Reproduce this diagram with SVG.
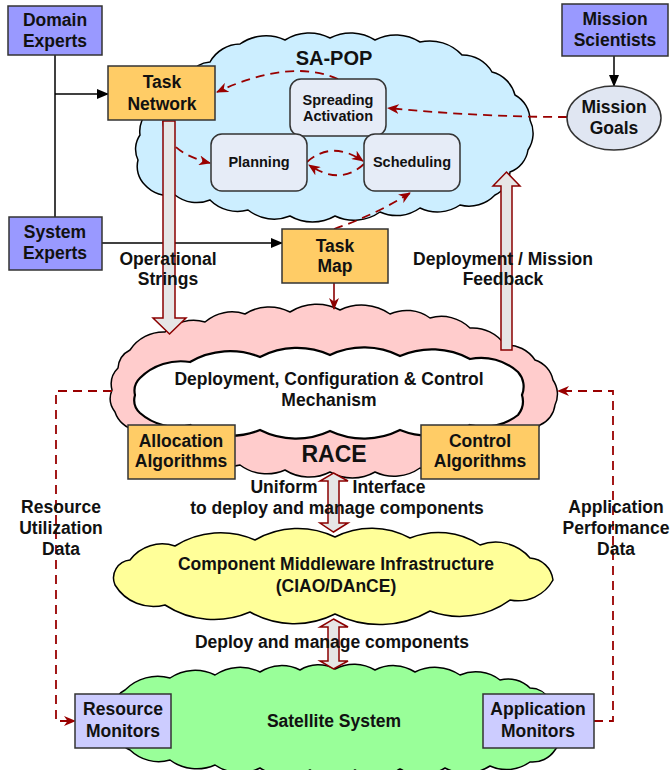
<svg xmlns="http://www.w3.org/2000/svg" width="670" height="770" viewBox="0 0 670 770">
<defs>
<style>
.t{font-family:"Liberation Sans",Arial,Helvetica,sans-serif;font-weight:bold;font-size:17.5px;fill:#111;text-anchor:middle}
.s{font-size:14.5px}
.box{stroke:#333;stroke-width:1.5}
.blue{fill:#9999ff}
.org{fill:#ffcc66}
.lav{fill:#ccccff}
.node{fill:#e6ecf7;stroke:#333;stroke-width:1.5}
.cloud{stroke:#000;stroke-width:1.5}
.dash{fill:none;stroke:#990000;stroke-width:1.8;stroke-dasharray:9 6}
.blk{fill:none;stroke:#000;stroke-width:1.5}
.block{fill:#e6e6e6;stroke:#8b0000;stroke-width:1.5}
</style>
<marker id="ra" viewBox="0 0 12 10" refX="11" refY="5" markerWidth="12" markerHeight="10" markerUnits="userSpaceOnUse" orient="auto"><path d="M0,0 L12,5 L0,10 L3.5,5 Z" fill="#990000"/></marker>
<marker id="ba" viewBox="0 0 12 10" refX="11" refY="5" markerWidth="12" markerHeight="10" markerUnits="userSpaceOnUse" orient="auto"><path d="M0,0 L12,5 L0,10 Z" fill="#000"/></marker>
<marker id="da" viewBox="0 0 12 10" refX="11" refY="5" markerWidth="12" markerHeight="10" markerUnits="userSpaceOnUse" orient="auto"><path d="M0,0 L12,5 L0,10 L3.5,5 Z" fill="#8b0000"/></marker>
</defs>
<rect width="670" height="770" fill="#fff"/>

<g id="sapop">
<path class="cloud" fill="#cceeff" d="M210,62 A35,35 0 0 1 240,44 A45,45 0 0 1 285,40 A45,45 0 0 1 330,38 A45,45 0 0 1 375,40 A45,45 0 0 1 420,42 A44,44 0 0 1 462,55 A34,34 0 0 1 492,72 A32,32 0 0 1 515,95 A29,29 0 0 1 530,120 A30,30 0 0 1 528,150 A28,28 0 0 1 510,172 A27,27 0 0 1 495,195 A36,36 0 0 1 460,205 A40,40 0 0 1 420,208 A40,40 0 0 1 380,212 A45,45 0 0 1 335,216 A45,45 0 0 1 290,216 A42,42 0 0 1 248,210 A39,39 0 0 1 210,200 A35,35 0 0 1 175,195 A32,32 0 0 1 145,185 A26,26 0 0 1 138,160 A25,25 0 0 1 140,135 A27,27 0 0 1 150,110 A50,50 0 0 1 190,75 A24,24 0 0 1 210,62 Z"/>
<text class="t" x="334" y="65" style="font-size:20px">SA-POP</text>
</g>

<g id="race">
<path class="cloud" fill="#ffcccc" d="M130,350 A40,40 0 0 1 165,332 A41,41 0 0 1 205,322 A41,41 0 0 1 245,314 A45,45 0 0 1 290,312 A50,50 0 0 1 340,310 A50,50 0 0 1 390,314 A40,40 0 0 1 430,318 A41,41 0 0 1 470,328 A39,39 0 0 1 505,345 A34,34 0 0 1 535,360 A27,27 0 0 1 553,380 A25,25 0 0 1 555,405 A25,25 0 0 1 540,425 A43,43 0 0 1 500,440 A45,45 0 0 1 460,460 A41,41 0 0 1 420,468 A45,45 0 0 1 375,472 A45,45 0 0 1 330,472 A45,45 0 0 1 285,470 A45,45 0 0 1 240,465 A36,36 0 0 1 205,455 A38,38 0 0 1 170,440 A36,36 0 0 1 135,430 A27,27 0 0 1 115,412 A22,22 0 0 1 112,390 A23,23 0 0 1 118,368 A22,22 0 0 1 130,350 Z"/>
<text class="t" x="334" y="462" style="font-size:23px">RACE</text>
</g>

<g id="dcc">
<path fill="#fff" stroke="#000" stroke-width="2.2" d="M140,378 A58,58 0 0 1 190,362 A80,80 0 0 1 260,357 A80,80 0 0 1 330,355 A80,80 0 0 1 400,356 A80,80 0 0 1 470,359 A55,55 0 0 1 518,372 A22,22 0 0 1 522,395 A22,22 0 0 1 518,415 A55,55 0 0 1 470,425 A80,80 0 0 1 400,430 A80,80 0 0 1 330,431 A80,80 0 0 1 260,430 A80,80 0 0 1 190,425 A55,55 0 0 1 140,413 A18,18 0 0 1 135,395 A18,18 0 0 1 140,378 Z"/>
<text class="t" x="329" y="385">Deployment, Configuration &amp; Control</text>
<text class="t" x="329" y="406">Mechanism</text>
</g>

<g id="cmi">
<path class="cloud" fill="#ffff99" d="M130,560 A40,40 0 0 1 175,546 A85,85 0 0 1 255,540 A85,85 0 0 1 335,537 A80,80 0 0 1 410,538 A75,75 0 0 1 480,545 A45,45 0 0 1 530,558 A25,25 0 0 1 553,580 A40,40 0 0 1 510,600 A85,85 0 0 1 430,611 A100,100 0 0 1 335,614 A90,90 0 0 1 250,612 A90,90 0 0 1 165,605 A45,45 0 0 1 115,585 A18,18 0 0 1 130,560 Z"/>
<text class="t" x="336" y="570">Component Middleware Infrastructure</text>
<text class="t" x="336" y="592">(CIAO/DAnCE)</text>
</g>

<g id="satellite">
<path class="cloud" fill="#99ff99" d="M125,690 A46,46 0 0 1 170,678 A45,45 0 0 1 215,675 A45,45 0 0 1 260,672 A40,40 0 0 1 300,670 A35,35 0 0 1 335,669 A40,40 0 0 1 375,670 A40,40 0 0 1 415,672 A45,45 0 0 1 460,675 A40,40 0 0 1 500,680 A31,31 0 0 1 530,688 A23,23 0 0 1 550,700 A27,27 0 0 1 560,725 A25,25 0 0 1 555,750 A27,27 0 0 1 530,762 A40,40 0 0 1 490,766 A45,45 0 0 1 445,768 A45,45 0 0 1 400,769 A45,45 0 0 1 355,770 A45,45 0 0 1 310,770 A50,50 0 0 1 260,768 A45,45 0 0 1 215,765 A45,45 0 0 1 170,760 A41,41 0 0 1 130,750 A25,25 0 0 1 115,730 A25,25 0 0 1 115,705 A18,18 0 0 1 125,690 Z"/>
<text class="t" x="334" y="727">Satellite System</text>
</g>

<g id="connectors">
<line class="blk" x1="55" y1="55" x2="55" y2="217"/>
<line class="blk" x1="55" y1="94" x2="108" y2="94" marker-end="url(#ba)"/>
<line class="blk" x1="102" y1="243" x2="282" y2="243" marker-end="url(#ba)"/>
<line class="blk" x1="614" y1="56" x2="614" y2="86" marker-end="url(#ba)"/>
<line x1="334" y1="283" x2="334" y2="309" stroke="#8b0000" stroke-width="1.6" marker-end="url(#da)"/>
<path class="dash" d="M338,79 Q290,58 217,92" marker-end="url(#ra)"/>
<path class="dash" d="M163,121 Q165,152 210,163" marker-end="url(#ra)"/>
<path class="dash" d="M307,162 Q332,140 363,161" marker-end="url(#ra)"/>
<path class="dash" d="M364,164 Q340,186 309,165" marker-end="url(#ra)"/>
<path class="dash" d="M567,117 Q480,117 388,108" marker-end="url(#ra)"/>
<path class="dash" d="M334,229 Q375,215 410,193" marker-end="url(#ra)"/>
<path class="dash" d="M112,391 L56,391 L56,721 L75,721" marker-end="url(#ra)"/>
<path class="dash" d="M594,721 L613,721 L613,391 L558,391" marker-end="url(#ra)"/>
<path class="block" d="M163,121 L175,121 L175,318 L186,318 L169.5,334 L153,318 L163,318 Z"/>
<path class="block" d="M501,350 L512,350 L512,186 L520,186 L506.5,172 L493,186 L501,186 Z"/>
<path class="block" d="M333.5,473 L348,481 L339,481 L339,523 L348,523 L333.5,532 L320,523 L328,523 L328,481 L320,481 Z"/>
<path class="block" d="M333.5,619 L348,627 L339,627 L339,661 L348,661 L333.5,669 L320,661 L328,661 L328,627 L320,627 Z"/>
<text class="t" x="168" y="265">Operational</text>
<text class="t" x="168" y="285">Strings</text>
<text class="t" x="503" y="265">Deployment / Mission</text>
<text class="t" x="503" y="285">Feedback</text>
<text class="t" x="284" y="493">Uniform</text>
<text class="t" x="389" y="493">Interface</text>
<text class="t" x="337" y="514">to deploy and manage components</text>
<text class="t" x="332" y="648">Deploy and manage components</text>
<text class="t" x="61" y="513">Resource</text>
<text class="t" x="61" y="534">Utilization</text>
<text class="t" x="61" y="555">Data</text>
<text class="t" x="616" y="513">Application</text>
<text class="t" x="616" y="534">Performance</text>
<text class="t" x="616" y="555">Data</text>
</g>

<g id="domain-experts">
<rect class="box blue" x="8" y="6" width="94" height="49"/>
<text class="t" x="55" y="26">Domain</text>
<text class="t" x="55" y="47">Experts</text>
</g>
<g id="task-network">
<rect class="box org" x="108" y="66" width="107" height="54"/>
<text class="t" x="162" y="88">Task</text>
<text class="t" x="162" y="110">Network</text>
</g>
<g id="mission-scientists">
<rect class="box blue" x="562" y="4" width="106" height="52"/>
<text class="t" x="615" y="25">Mission</text>
<text class="t" x="615" y="46">Scientists</text>
</g>
<g id="mission-goals">
<ellipse cx="614" cy="118" rx="47" ry="32" fill="#e0e6f2" stroke="#333" stroke-width="1.5"/>
<text class="t" x="614" y="113">Mission</text>
<text class="t" x="614" y="134">Goals</text>
</g>
<g id="spreading-activation">
<rect class="node" x="290" y="79" width="96" height="57" rx="11"/>
<text class="t s" x="338" y="105">Spreading</text>
<text class="t s" x="338" y="121">Activation</text>
</g>
<g id="planning">
<rect class="node" x="211" y="134" width="96" height="57" rx="11"/>
<text class="t s" x="259" y="167">Planning</text>
</g>
<g id="scheduling">
<rect class="node" x="364" y="134" width="96" height="57" rx="11"/>
<text class="t s" x="412" y="167">Scheduling</text>
</g>
<g id="system-experts">
<rect class="box blue" x="9" y="217" width="93" height="53"/>
<text class="t" x="55" y="238">System</text>
<text class="t" x="55" y="259">Experts</text>
</g>
<g id="task-map">
<rect class="box org" x="282" y="229" width="106" height="54"/>
<text class="t" x="335" y="252">Task</text>
<text class="t" x="335" y="272">Map</text>
</g>
<g id="allocation-algorithms">
<rect class="box org" x="128" y="425" width="107" height="54"/>
<text class="t" x="181" y="447">Allocation</text>
<text class="t" x="181" y="467">Algorithms</text>
</g>
<g id="control-algorithms">
<rect class="box org" x="421" y="425" width="118" height="54"/>
<text class="t" x="480" y="447">Control</text>
<text class="t" x="480" y="467">Algorithms</text>
</g>
<g id="resource-monitors">
<rect class="box lav" x="75" y="694" width="96" height="54"/>
<text class="t" x="123" y="715">Resource</text>
<text class="t" x="123" y="737">Monitors</text>
</g>
<g id="application-monitors">
<rect class="box lav" x="483" y="694" width="111" height="54"/>
<text class="t" x="538" y="715">Application</text>
<text class="t" x="538" y="737">Monitors</text>
</g>
</svg>
